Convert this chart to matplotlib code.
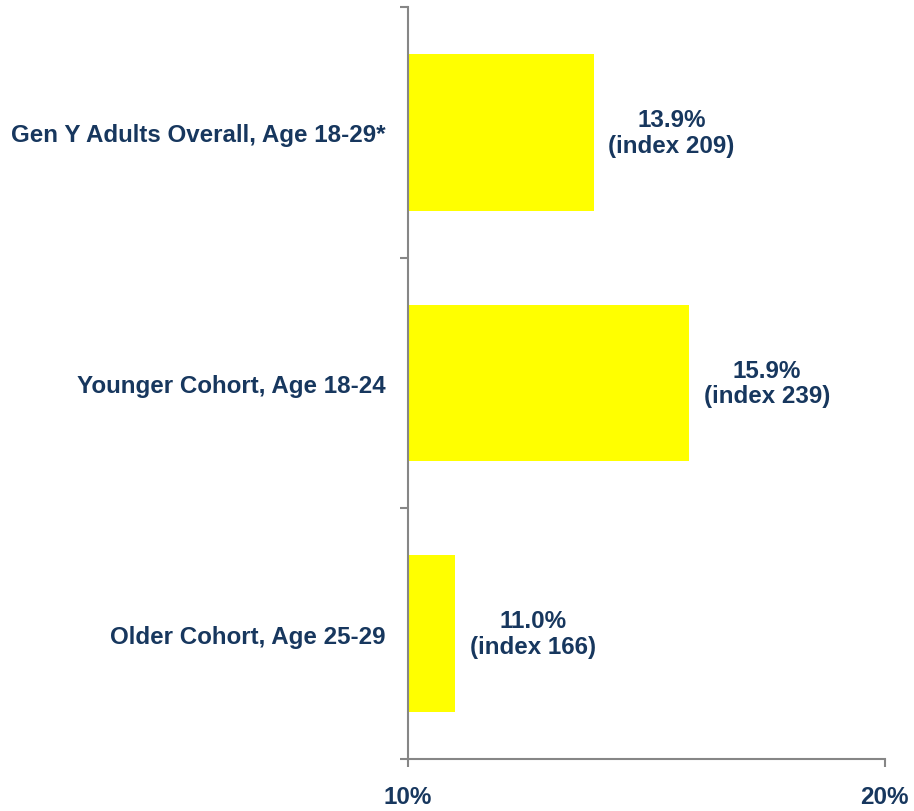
import matplotlib.pyplot as plt
from matplotlib.ticker import FixedLocator

# --------------------------------------------------
# Data
# --------------------------------------------------

categories = [
    "Gen Y Adults Overall, Age 18-29*",
    "Younger Cohort, Age 18-24",
    "Older Cohort, Age 25-29",
]
values = [13.9, 15.9, 11.0]
indexes = [209, 239, 166]
x_ticks = [10, 20]
x_tick_labels = ["10%", "20%"]

TEXT = "#17375E"
SPINE = "#868686"
FS = 17.4

plt.rcParams["font.family"] = ["Liberation Sans", "DejaVu Sans"]

fig = plt.figure(figsize=(9.14, 8.12), dpi=100)
ax = fig.add_axes([0.446, 0.064, 0.522, 0.926])

pos = list(range(len(categories)))
ax.barh(pos, [v - 10 for v in values], left=10, height=0.625,
        color="#FFFF00", edgecolor="none")

for p, v, idx in zip(pos, values, indexes):
    ax.annotate(f"{v:.1f}%\n(index {idx})", xy=(v, p), xytext=(56, 0),
                textcoords="offset points", ha="center", va="center",
                fontsize=FS, fontweight="bold", color=TEXT,
                linespacing=1.15)

ax.set_xlim(10, 20)
ax.set_ylim(2.5, -0.5)

ax.set_yticks(pos)
ax.set_yticklabels(categories)
ax.yaxis.set_minor_locator(FixedLocator([-0.5, 0.5, 1.5, 2.5]))
ax.tick_params(axis="y", which="major", length=0, pad=16)
ax.tick_params(axis="y", which="minor", length=6, width=1.5, color=SPINE,
               direction="out")

ax.set_xticks(x_ticks)
ax.set_xticklabels(x_tick_labels)
ax.tick_params(axis="x", length=6, width=1.5, color=SPINE, direction="out",
               pad=13)

for lab in ax.get_yticklabels() + ax.get_xticklabels():
    lab.set_fontsize(FS)
    lab.set_fontweight("bold")
    lab.set_color(TEXT)

for side in ["top", "right"]:
    ax.spines[side].set_visible(False)
for side in ["left", "bottom"]:
    ax.spines[side].set_color(SPINE)
    ax.spines[side].set_linewidth(1.5)

fig.savefig("out.png", dpi=100)
